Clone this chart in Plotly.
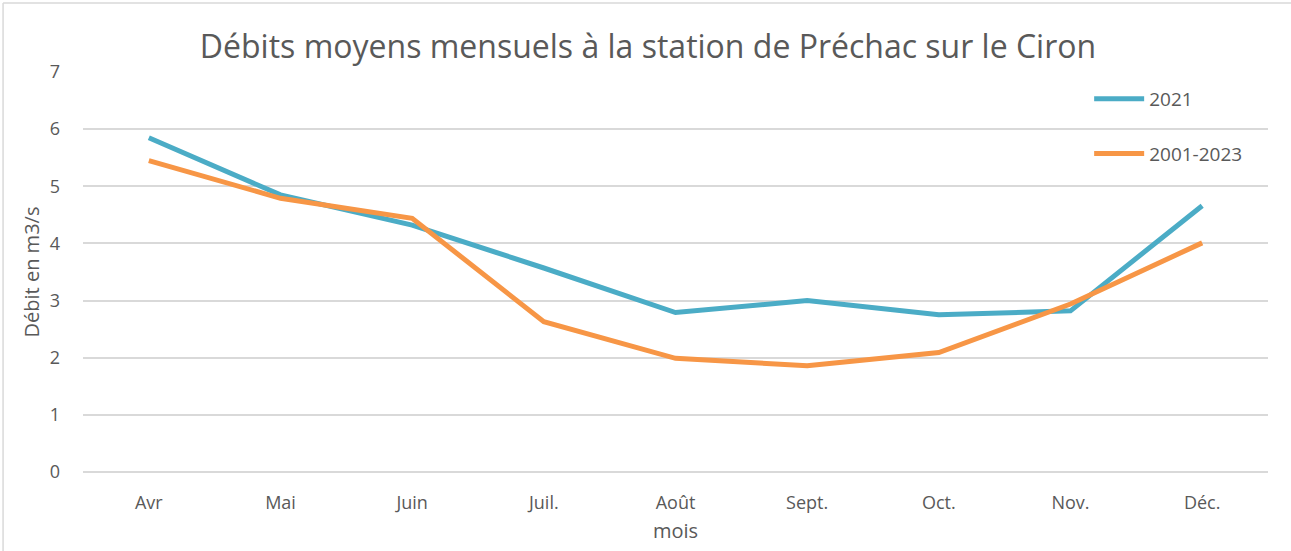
import plotly.graph_objects as go

months = ["Avr", "Mai", "Juin", "Juil.", "Août", "Sept.", "Oct.", "Nov.", "Déc."]
debit_2021 = [5.85, 4.85, 4.32, 3.57, 2.79, 3.00, 2.75, 2.82, 4.66]
debit_2001_2023 = [5.45, 4.79, 4.44, 2.63, 1.99, 1.86, 2.09, 2.94, 4.01]
y_ticks = [0, 1, 2, 3, 4, 5, 6, 7]

grey = "#595959"
font_family = "Open Sans, Noto Sans, sans-serif"

fig = go.Figure()
fig.add_trace(go.Scatter(x=months, y=debit_2021, mode="lines", name="2021",
                         line=dict(color="#4BACC6", width=5), legendgroup="a"))
fig.add_trace(go.Scatter(x=months, y=debit_2001_2023, mode="lines", name="2001-2023",
                         line=dict(color="#F79646", width=5), legendgroup="b"))

fig.update_layout(
    width=1291, height=551,
    margin=dict(l=83, r=23, t=72, b=79),
    paper_bgcolor="white", plot_bgcolor="white",
    font=dict(family=font_family, color=grey, size=18),
    title=dict(text="Débits moyens mensuels à la station de Préchac sur le Ciron",
               x=648 / 1291, xref="container", xanchor="center", y=1 - 47/551, yanchor="middle",
               font=dict(size=32, color=grey, family=font_family)),
    xaxis=dict(type="category", range=[-0.5, 8.5], showgrid=False, showline=False,
               ticks="", ticklabelstandoff=18, tickfont=dict(size=18, color=grey),
               title=dict(text="mois", font=dict(size=20, color=grey), standoff=10)),
    yaxis=dict(range=[0, 7], tickvals=y_ticks, showgrid=True, gridcolor="#D9D9D9",
               gridwidth=1.5, zeroline=True, zerolinecolor="#D9D9D9", zerolinewidth=1.5,
               showline=False, ticks="", ticklabelstandoff=22,
               tickfont=dict(size=18, color=grey),
               title=dict(text="Débit en m3/s", font=dict(size=20, color=grey), standoff=4)),
    legend=dict(x=(1090 - 83) / 1186, y=(472 - 80) / 400, xanchor="left", yanchor="top",
                traceorder="grouped", tracegroupgap=27, bgcolor="rgba(0,0,0,0)",
                font=dict(size=19, color=grey), itemwidth=50),
    shapes=[
        dict(type="line", xref="paper", yref="paper",
             x0=(3 - 83) / 1186, x1=(1291 - 83) / 1186 + 0.05,
             y0=(472 - 3) / 400, y1=(472 - 3) / 400,
             line=dict(color="#D9D9D9", width=1.5)),
        dict(type="line", xref="paper", yref="paper",
             x0=(3 - 83) / 1186, x1=(3 - 83) / 1186,
             y0=(472 - 3) / 400, y1=(472 - 560) / 400,
             line=dict(color="#D9D9D9", width=1.5)),
    ],
)

fig.write_html("out.html", config={"displayModeBar": False},
               post_script="document.body.style.margin='0';")
